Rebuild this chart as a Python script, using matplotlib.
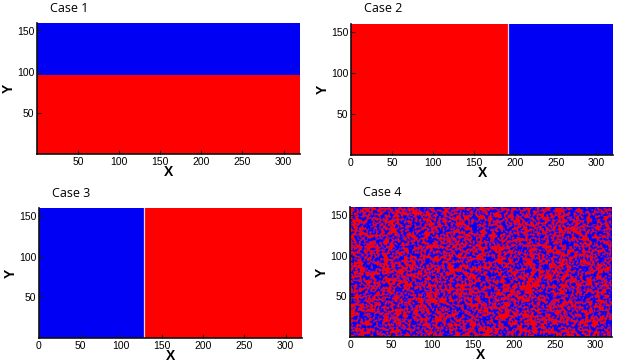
import numpy as np
import matplotlib.pyplot as plt
from matplotlib.colors import ListedColormap, LinearSegmentedColormap

# domain size (lattice units)
NX, NY = 320, 160

# interface positions
case1_interface_y = 97    # red below, blue above
case2_interface_x = 192   # red left, blue right
case3_interface_x = 128   # blue left, red right
case4_red_fraction = 0.55

titles = ["Case 1", "Case 2", "Case 3", "Case 4"]
xticks = [[50, 100, 150, 200, 250, 300],
          [0, 50, 100, 150, 200, 250, 300],
          [0, 50, 100, 150, 200, 250, 300],
          [0, 50, 100, 150, 200, 250, 300]]
yticks = [50, 100, 150]

RED = "#ff0000"
BLUE = "#0000f5"
cmap = ListedColormap([BLUE, RED])
cmap_mix = LinearSegmentedColormap.from_list("rb", [BLUE, "#6a18c8", RED])

x = np.arange(NX) + 0.5
y = np.arange(NY) + 0.5
X, Y = np.meshgrid(x, y)

fields = [
    (Y < case1_interface_y).astype(float),
    (X < case2_interface_x).astype(float),
    (X > case3_interface_x).astype(float),
]

# case 4: random initial mixture (texture only, fixed seed)
rng = np.random.default_rng(7)
noise = rng.random((NY, NX))
k = np.array([0.25, 0.5, 0.25])
sm = np.apply_along_axis(lambda r: np.convolve(r, k, mode="same"), 1, noise)
sm = np.apply_along_axis(lambda c: np.convolve(c, k, mode="same"), 0, sm)
thr = np.quantile(sm, 1 - case4_red_fraction)
fields.append(np.clip((sm - thr) * 8 + 0.5, 0, 1))

interfaces = [("h", case1_interface_y), ("v", case2_interface_x),
              ("v", case3_interface_x), None]

fig = plt.figure(figsize=(6.2, 3.63), dpi=100)
boxes = [(37, 23, 263, 131), (351, 24, 262, 131),
         (39, 208, 263, 130), (350, 207, 262, 130)]
W, H = 620, 363

for i, (l, t, w, h) in enumerate(boxes):
    ax = fig.add_axes([l / W, 1 - (t + h) / H, w / W, h / H])
    ax.imshow(fields[i], cmap=cmap if i < 3 else cmap_mix, vmin=0, vmax=1,
              origin="lower", extent=[0, NX, 0, NY], aspect="auto",
              interpolation="nearest" if i < 3 else "antialiased")
    if interfaces[i] is not None:
        kind, pos = interfaces[i]
        if kind == "v":
            ax.axvline(pos, color="#d8d8d8", lw=0.9)
    ax.set_xlim(0, NX)
    ax.set_ylim(0, NY)
    ax.set_xticks(xticks[i])
    ax.set_yticks(yticks)
    ax.tick_params(direction="in", length=3, width=0.8, color="#202020",
                   labelsize=7.5, pad=2, top=False, right=False)
    for lab in ax.get_xticklabels() + ax.get_yticklabels():
        lab.set_family("Liberation Sans")
    for s in ["top", "right"]:
        ax.spines[s].set_visible(False)
    for s in ["left", "bottom"]:
        ax.spines[s].set_color("#101010")
        ax.spines[s].set_linewidth(1.2)
    ax.set_xlabel("X", fontsize=10, fontweight="bold", family="Liberation Sans",
                  labelpad=-1)
    ax.set_ylabel("Y", fontsize=10, fontweight="bold", family="Liberation Sans",
                  labelpad=1)
    fig.text((l + 13) / W, 1 - (t - 15) / H, titles[i], fontsize=9,
             family="Open Sans", va="center", ha="left")

fig.savefig("out.png", dpi=100)
